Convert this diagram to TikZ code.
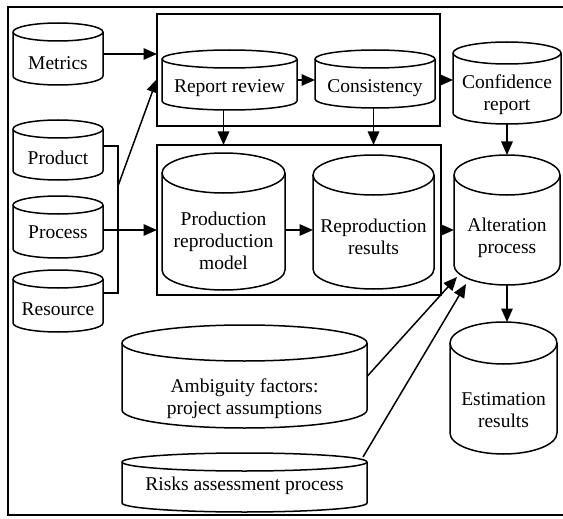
\documentclass[tikz,border=0pt]{standalone}
\usepackage{fontspec}
\setmainfont{Liberation Serif}
\usetikzlibrary{arrows.meta,calc}
\tikzset{
  cylline/.style={line width=1.5pt, line join=round},
  cylnode/.style={draw=none, inner sep=0pt, outer sep=0pt, rectangle},
  cyltext/.style={align=center, inner sep=0pt, font=\fontsize{19.5}{22}\selectfont},
  groupbox/.style={draw, line width=2.1pt, inner sep=0pt, outer sep=0pt, rectangle},
  conn/.style={line width=1.5pt},
  arr/.style={line width=1.5pt, -{Triangle[length=13.5pt,width=11.5pt]}},
}
% #1 name, #2 x1, #3 ytop, #4 x2, #5 ybottom, #6 ry, #7 text centre y, #8 text
\newcommand{\cylshape}[8]{%
  \draw[cylline] ({(#2+#4)/2},{#3+#6}) ellipse [x radius={(#4-#2)/2}, y radius=#6];
  \draw[cylline] (#2,{#3+#6}) -- (#2,{#5-#6})
    .. controls (#2,{#5-#6+0.5523*#6}) and ({(#2+#4)/2-0.5523*(#4-#2)/2},#5) .. ({(#2+#4)/2},#5)
    .. controls ({(#2+#4)/2+0.5523*(#4-#2)/2},#5) and (#4,{#5-#6+0.5523*#6}) .. (#4,{#5-#6})
    -- (#4,{#3+#6});
  \node[cylnode, minimum width={(#4-#2)*1pt}, minimum height={(#5-#3)*1pt},
        label={[cyltext, yshift={((#3+#5)/2-#7)*1pt}]center:{#8}}] (#1) at ({(#2+#4)/2},{(#3+#5)/2}) {};
}
\begin{document}
\begin{tikzpicture}[x=1pt, y=-1pt]
\useasboundingbox (0,0) rectangle (563,519);
% outer frame (open on the right edge)
\draw[line width=1.5pt] (563,7) -- (8,7) -- (8,515) -- (563,515);
% group boxes
\node[groupbox, minimum width=283pt, minimum height=112pt] (topbox) at (298.5,70) {};
\node[groupbox, minimum width=284pt, minimum height=150pt] (prodbox) at (299,220) {};
% cylinders
\cylshape{metrics}{13}{23}{103}{85}{9}{63}{Metrics}
\cylshape{product}{13}{120}{103}{180}{9}{158}{Product}
\cylshape{process}{13}{196}{103}{258}{9}{232}{Process}
\cylshape{resource}{13}{270}{103}{332}{9}{309}{Resource}
\cylshape{report}{162}{50}{297}{110}{9}{88}{Report review}
\cylshape{consistency}{315}{50}{435}{108}{9}{88}{Consistency}
\cylshape{confidence}{453}{42}{561}{124}{11}{95}{Confidence\\report}
\cylshape{production}{162}{153}{285}{290}{20}{241}{Production\\reproduction\\model}
\cylshape{reproduction}{313}{155}{434}{289}{20}{237}{Reproduction\\results}
\cylshape{alteration}{454}{155}{560}{285}{20}{238}{Alteration\\process}
\cylshape{estimation}{450}{322}{557}{454}{21}{410}{Estimation\\results}
\cylshape{ambiguity}{122}{325}{367}{428}{18}{399}{Ambiguity factors:\\project assumptions}
\cylshape{risks}{122}{453}{367}{512}{9}{486}{Risks assessment process}
% helper coordinates
\coordinate (bt) at (118,146);
\coordinate (bb) at (118,293);
\coordinate (dg) at (118,186);
\coordinate (row) at (0,230);
% connectors
\draw[arr] (metrics.east) -- (metrics.east -| topbox.west);
\draw[conn] (product.east |- bt) -- (bt) -- (bb) -- (resource.east |- bb);
\draw[arr] (dg) -- ($(topbox.west)+(0,9)$);
\draw[arr] (process.east |- row) -- (prodbox.west |- row);
\draw[arr] (report.east) -- (report.east -| consistency.west);
\draw[arr] (topbox.east |- report.east) -- (report.east -| confidence.west);
\draw[arr] (report.south -| production.north) -- (production.north |- prodbox.north);
\draw[arr] (consistency.south -| reproduction.north) -- (reproduction.north |- prodbox.north);
\draw[arr] (production.east |- row) -- (reproduction.west |- row);
\draw[arr] (prodbox.east |- row) -- (alteration.west |- row);
\draw[arr] (confidence.south) -- (confidence.south |- alteration.north);
\draw[arr] (alteration.south) -- (alteration.south |- estimation.north);
\draw[arr] (ambiguity.east) -- ($(alteration.south west)+(3,-8)$);
\draw[arr] ($(risks.north east)+(-4,4)$) -- ($(alteration.south west)+(12,-1)$);
\end{tikzpicture}
\end{document}
